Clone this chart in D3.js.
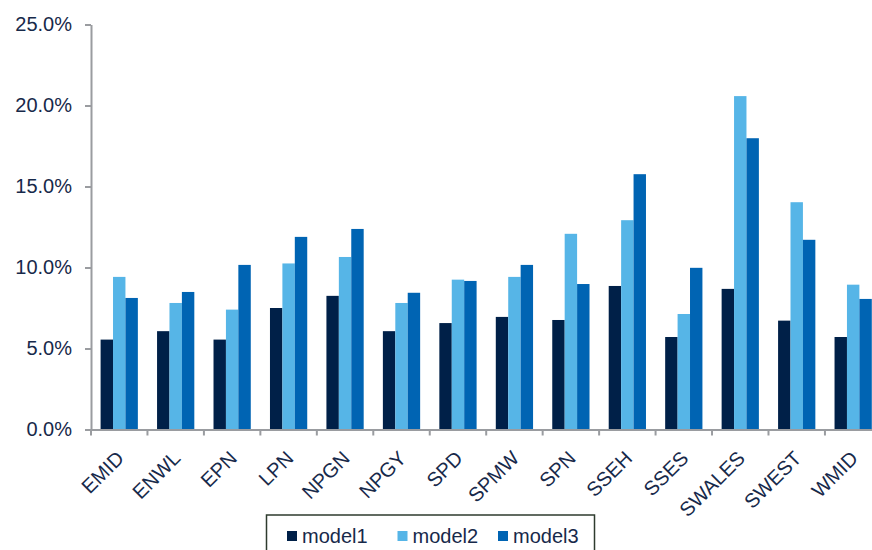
<!DOCTYPE html>
<html>
<head>
<meta charset="utf-8">
<script src="https://cdn.jsdelivr.net/npm/d3@7/dist/d3.min.js"></script>
<style>
  html, body { margin: 0; padding: 0; background: #fff; }
  svg { display: block; }
  text { font-family: "Liberation Sans", Arial, sans-serif; fill: #17294a; }
</style>
</head>
<body>
<svg id="chart" width="872" height="550"></svg>
<script>
const categories = ["EMID","ENWL","EPN","LPN","NPGN","NPGY","SPD","SPMW","SPN","SSEH","SSES","SWALES","SWEST","WMID"];
const seriesNames = ["model1","model2","model3"];
const model1 = [5.55, 6.07, 5.55, 7.50, 8.25, 6.07, 6.57, 6.95, 6.76, 8.86, 5.71, 8.68, 6.72, 5.71];
const model2 = [9.42, 7.81, 7.40, 10.25, 10.65, 7.81, 9.25, 9.42, 12.08, 12.92, 7.13, 20.58, 14.03, 8.94];
const model3 = [8.12, 8.49, 10.16, 11.89, 12.38, 8.44, 9.17, 10.16, 8.98, 15.76, 9.98, 17.98, 11.71, 8.06];
const yTicks = [0, 5, 10, 15, 20, 25];
const colors = ["#002048", "#56b5e7", "#0064b3"];

(function () {
const seriesValues = [model1, model2, model3];
const rows = categories.map((c, i) => ({ cat: c, vals: seriesNames.map((s, j) => ({ key: s, value: seriesValues[j][i] })) }));

const svg = d3.select("#chart");
const mLeft = 91, mRight = 881.4, mTop = 24.5, mBottom = 429.5;

const x0 = d3.scaleBand().domain(categories).range([mLeft, mRight]).paddingInner(0.34).paddingOuter(0.17);
const x1 = d3.scaleBand().domain(seriesNames).range([0, x0.bandwidth()]);
const y = d3.scaleLinear().domain([0, 25]).range([mBottom, mTop]);
const color = d3.scaleOrdinal().domain(seriesNames).range(colors);

// bars
const g = svg.append("g");
const groups = g.selectAll("g.grp").data(rows).join("g")
  .attr("transform", d => `translate(${x0(d.cat)},0)`);
groups.selectAll("rect").data(d => d.vals).join("rect")
  .attr("x", d => x1(d.key))
  .attr("width", x1.bandwidth())
  .attr("y", d => y(d.value))
  .attr("height", d => y(0) - y(d.value))
  .attr("fill", d => color(d.key));

// y axis
const yAxis = svg.append("g")
  .attr("transform", `translate(${mLeft},0)`)
  .call(d3.axisLeft(y).tickValues(yTicks).tickFormat(d => d.toFixed(1) + "%").tickSize(6).tickSizeOuter(0));
yAxis.select(".domain").attr("stroke", "#9a9ca0").attr("stroke-width", 2);
yAxis.selectAll(".tick line").attr("stroke", "#9a9ca0").attr("stroke-width", 2);
yAxis.selectAll(".tick text")
  .attr("x", -19)
  .attr("font-size", "20px")
  .style("fill", "#17294a");

// x axis
const step = x0.step();
const boundaries = d3.range(categories.length + 1).map(i => mLeft + i * step);
const xAxis = svg.append("g")
  .attr("transform", `translate(0,${mBottom})`)
  .call(d3.axisBottom(x0).tickSize(0).tickSizeOuter(0));
xAxis.select(".domain").attr("stroke", "#9a9ca0").attr("stroke-width", 2);
xAxis.selectAll(".tick text")
  .attr("font-size", "20px")
  .attr("text-anchor", "end")
  .attr("y", 0).attr("dy", 0)
  .attr("transform", "translate(6,30) rotate(-45)")
  .style("fill", "#17294a");
svg.append("g").selectAll("line").data(boundaries).join("line")
  .attr("x1", d => d).attr("x2", d => d)
  .attr("y1", mBottom).attr("y2", mBottom + 6)
  .attr("stroke", "#9a9ca0").attr("stroke-width", 2);

// legend
const legend = svg.append("g");
legend.append("rect")
  .attr("x", 266.5).attr("y", 515).attr("width", 328).attr("height", 60)
  .attr("fill", "#fff").attr("stroke", "#2e3b2e").attr("stroke-width", 1.5);
const lx = [287, 397.5, 498];
const items = legend.selectAll("g.item").data(seriesNames).join("g")
  .attr("transform", (d, i) => `translate(${lx[i]},0)`);
items.append("rect").attr("x", 0).attr("y", 531).attr("width", 10).attr("height", 10)
  .attr("fill", d => color(d));
items.append("text").attr("x", 15).attr("y", 543).attr("font-size", "20px").text(d => d);
})();
</script>
</body>
</html>
